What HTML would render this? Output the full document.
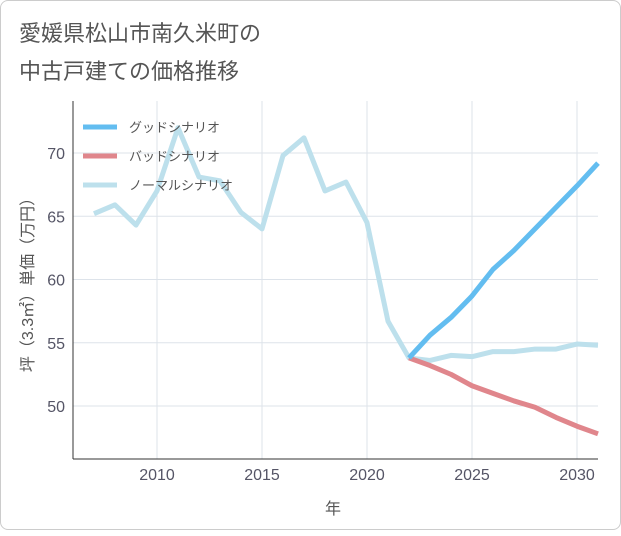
<!DOCTYPE html>
<html><head><meta charset="utf-8"><style>
body{margin:0;background:#fff;}
#card{position:absolute;left:0;top:0;width:619px;height:528px;border:1px solid #ccc;border-radius:8px;background:#fff;}
text{font-family:"Liberation Sans","Noto Sans CJK JP",sans-serif;}
</style></head><body>
<div id="card">
<svg id="chart" width="621" height="530">
<text x="18" y="40" font-size="22" fill="#555">愛媛県松山市南久米町の</text>
<text x="18" y="78" font-size="22" fill="#555">中古戸建ての価格推移</text>
<g id="grid"></g><g id="series"></g><g id="legend"></g>
<text x="332" y="513" font-size="16" fill="#555" text-anchor="middle">年</text>
<text transform="translate(32,280) rotate(-90)" font-size="16" fill="#555" text-anchor="middle">坪（3.3㎡）単価（万円）</text>
</svg></div>
<script>
const years=[2007,2008,2009,2010,2011,2012,2013,2014,2015,2016,2017,2018,2019,2020,2021,2022,2023,2024,2025,2026,2027,2028,2029,2030,2031];
const normal=[65.2,65.9,64.3,67.0,72.0,68.1,67.8,65.3,64.0,69.8,71.2,67.0,67.7,64.5,56.7,53.8,53.6,54.0,53.9,54.3,54.3,54.5,54.5,54.9,54.8];
const fyears=[2022,2023,2024,2025,2026,2027,2028,2029,2030,2031];
const good=[53.8,55.6,57.0,58.7,60.8,62.3,64.0,65.7,67.4,69.2];
const bad=[53.8,53.2,52.5,51.6,51.0,50.4,49.9,49.1,48.4,47.8];
const xTicks=[2010,2015,2020,2025,2030];
const yTicks=[50,55,60,65,70];
const NS="http://www.w3.org/2000/svg";
const X=y=>156+(y-2010)*21;
const Y=v=>405-(v-50)*12.65;
const L=72,R=597,T=100,B=458;
function mk(tag,attrs,parent){const e=document.createElementNS(NS,tag);for(const k in attrs)e.setAttribute(k,attrs[k]);parent.appendChild(e);return e;}
const grid=document.getElementById('grid');
yTicks.forEach(v=>{
 const l=mk('line',{x1:L,x2:R,y1:Y(v),y2:Y(v),stroke:'#dde3ea','stroke-width':1},grid);
 
 
 const t=mk('text',{x:L-8,y:Y(v)+6,'font-size':16,fill:'#556','text-anchor':'end'},grid);t.textContent=v;
 
 
});
xTicks.forEach(v=>{
 const l=mk('line',{x1:X(v),x2:X(v),y1:T,y2:B,stroke:'#dde3ea','stroke-width':1},grid);
 
 
 const t=mk('text',{x:X(v),y:B+21,'font-size':16,fill:'#556','text-anchor':'middle'},grid);t.textContent=v;
 
 
});
const ax=mk('line',{x1:L,x2:L,y1:T,y2:B,stroke:'#333','stroke-width':1},grid);


const ax2=mk('line',{x1:L,x2:R,y1:B,y2:B,stroke:'#333','stroke-width':1},grid);


const sg=document.getElementById('series');
function line(xs,vs,color,name){
 const p=mk('polyline',{points:xs.map((y,i)=>X(y)+','+Y(vs[i])).join(' '),fill:'none',stroke:color,'stroke-width':5,'stroke-linejoin':'round'},sg);
 
 
}
line(years,normal,'#bde0ec','normal-scenario-line');
line(fyears,bad,'#e0868c','bad-scenario-line');
line(fyears,good,'#63bdf0','good-scenario-line');
const lg=document.getElementById('legend');
[['グッドシナリオ','#63bdf0','legend-good'],['バッドシナリオ','#e0868c','legend-bad'],['ノーマルシナリオ','#bde0ec','legend-normal']].forEach((d,i)=>{
 const y=126+i*29;
 const g=mk('g',{},lg);
 
 
 mk('line',{x1:82,x2:116,y1:y,y2:y,stroke:d[1],'stroke-width':5},g);
 const t=mk('text',{x:128,y:y+5,'font-size':13,fill:'#555'},g);t.textContent=d[0];
});
</script>
</body></html>
